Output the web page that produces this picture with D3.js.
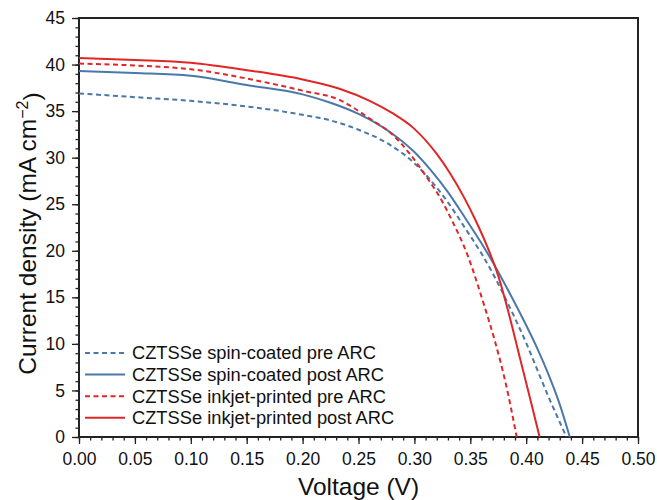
<!DOCTYPE html>
<html>
<head>
<meta charset="utf-8">
<script src="https://cdn.jsdelivr.net/npm/d3@7"></script>
<style>
  body { margin: 0; background: #fff; }
  text { font-family: "Liberation Sans", Arial, sans-serif; }
</style>
</head>
<body>
<svg id="chart"></svg>
<script>
// J-V curves: [voltage (V), current density (mA cm-2)]
var spinPre = [[0, 36.9], [0.05, 36.5], [0.10, 36.1], [0.15, 35.5], [0.20, 34.6], [0.225, 34.0],
  [0.25, 33.0], [0.275, 31.6], [0.30, 29.4], [0.315, 27.5], [0.33, 25.2], [0.345, 22.5],
  [0.36, 19.7], [0.37, 17.6], [0.385, 14.0], [0.40, 10.1], [0.41, 7.2], [0.42, 4.3],
  [0.43, 1.6], [0.436, 0]];
var spinPost = [[0, 39.3], [0.05, 39.1], [0.10, 38.8], [0.15, 37.8], [0.20, 36.8], [0.225, 35.9],
  [0.25, 34.7], [0.28, 32.6], [0.30, 30.6], [0.315, 28.6], [0.33, 26.3], [0.345, 23.6],
  [0.36, 20.8], [0.37, 18.8], [0.385, 15.5], [0.40, 12.0], [0.41, 9.5], [0.42, 6.7],
  [0.43, 3.5], [0.439, 0]];
var inkPre = [[0, 40.1], [0.05, 39.9], [0.10, 39.5], [0.15, 38.5], [0.20, 37.2], [0.233, 36.2],
  [0.26, 34.2], [0.281, 32.4], [0.296, 30.4], [0.311, 27.9], [0.323, 25.7], [0.333, 23.4],
  [0.347, 19.7], [0.362, 14.3], [0.372, 10.3], [0.382, 5.6], [0.3915, 0]];
var inkPost = [[0, 40.7], [0.05, 40.5], [0.10, 40.2], [0.15, 39.4], [0.20, 38.4], [0.233, 37.4],
  [0.26, 36.1], [0.28, 34.8], [0.299, 33.2], [0.32, 30.4], [0.332, 28.3], [0.345, 25.6],
  [0.355, 23.2], [0.365, 20.5], [0.375, 17.3], [0.385, 13.0], [0.395, 8.2], [0.404, 3.9],
  [0.412, 0]];

var seriesNames = ["CZTSSe spin-coated pre ARC", "CZTSSe spin-coated post ARC",
  "CZTSSe inkjet-printed pre ARC", "CZTSSe inkjet-printed post ARC"];
var seriesData = [spinPre, spinPost, inkPre, inkPost];
var seriesColors = ["#4a78a8", "#4a78a8", "#e02626", "#e02626"];
var seriesDashed = [true, false, true, false];

var xTicks = [0, 0.05, 0.10, 0.15, 0.20, 0.25, 0.30, 0.35, 0.40, 0.45, 0.50];
var yTicks = [0, 5, 10, 15, 20, 25, 30, 35, 40, 45];

// set the dimensions and margins of the graph
var margin = { top: 18, right: 19, bottom: 63, left: 79 },
  width = 657 - margin.left - margin.right,
  height = 500 - margin.top - margin.bottom;

var svg = d3.select("#chart")
  .attr("width", 657)
  .attr("height", 500)
  .append("g")
  .attr("transform", "translate(" + margin.left + "," + margin.top + ")");

var x = d3.scaleLinear().domain([0, 0.5]).range([0, width]);
var y = d3.scaleLinear().domain([0, 45]).range([height, 0]);

// minor ticks first, then major ticks with labels
svg.append("g")
  .attr("transform", "translate(0," + height + ")")
  .call(d3.axisBottom(x).tickValues(d3.range(0, 51).map(function (i) { return i / 100; }))
    .tickSize(3.5).tickFormat(""));
svg.append("g")
  .call(d3.axisLeft(y).tickValues(d3.range(0, 46)).tickSize(3.5).tickFormat(""));

svg.append("g")
  .attr("transform", "translate(0," + height + ")")
  .call(d3.axisBottom(x).tickValues(xTicks).tickSize(7).tickPadding(8.5).tickFormat(d3.format(".2f")))
  .style("font-size", "17.5px");
svg.append("g")
  .call(d3.axisLeft(y).tickValues(yTicks).tickSize(7).tickPadding(7).tickFormat(d3.format("d")))
  .style("font-size", "17.5px");

svg.selectAll(".tick line").attr("stroke", "#222").attr("stroke-width", 1.3);
svg.selectAll(".tick text").attr("fill", "#111").style("font-family", "'Liberation Sans', Arial, sans-serif");
svg.selectAll(".domain").remove();

// frame around the plot
svg.append("rect")
  .attr("x", 0).attr("y", 0)
  .attr("width", width).attr("height", height)
  .attr("fill", "none")
  .attr("stroke", "#222")
  .attr("stroke-width", 2);

// curves
var line = d3.line()
  .x(function (d) { return x(d[0]); })
  .y(function (d) { return y(d[1]); })
  .curve(d3.curveMonotoneX);

seriesData.forEach(function (data, i) {
  svg.append("path")
    .datum(data)
    .attr("fill", "none")
    .attr("stroke", seriesColors[i])
    .attr("stroke-width", 2)
    .attr("stroke-dasharray", seriesDashed[i] ? "5,3.5" : null)
    .attr("d", line);
});

// legend
var legend = svg.append("g").attr("transform", "translate(6," + (353 - margin.top) + ")");
seriesNames.forEach(function (name, i) {
  var row = legend.append("g").attr("transform", "translate(0," + (i * 21.6) + ")");
  row.append("line")
    .attr("x1", 0).attr("x2", 40)
    .attr("stroke", seriesColors[i])
    .attr("stroke-width", 2)
    .attr("stroke-dasharray", seriesDashed[i] ? "5,3.5" : null);
  row.append("text")
    .attr("x", 47).attr("y", 0).attr("dy", "0.35em")
    .style("font-size", "18.3px")
    .attr("fill", "#111")
    .text(name);
});

// axis titles
svg.append("text")
  .attr("x", width / 2)
  .attr("y", height + 58)
  .style("text-anchor", "middle")
  .style("font-size", "24.5px")
  .attr("fill", "#111")
  .text("Voltage (V)");

var yTitle = svg.append("text")
  .attr("transform", "translate(" + (-43) + "," + (height / 2 + 6) + ") rotate(-90)")
  .style("text-anchor", "middle")
  .style("font-size", "24.5px")
  .attr("fill", "#111");
yTitle.append("tspan").text("Current density (mA cm");
yTitle.append("tspan").attr("dy", "-0.5em").style("font-size", "16px").text("\u22122");
yTitle.append("tspan").attr("dy", "0.5em").text(")");
</script>
</body>
</html>
